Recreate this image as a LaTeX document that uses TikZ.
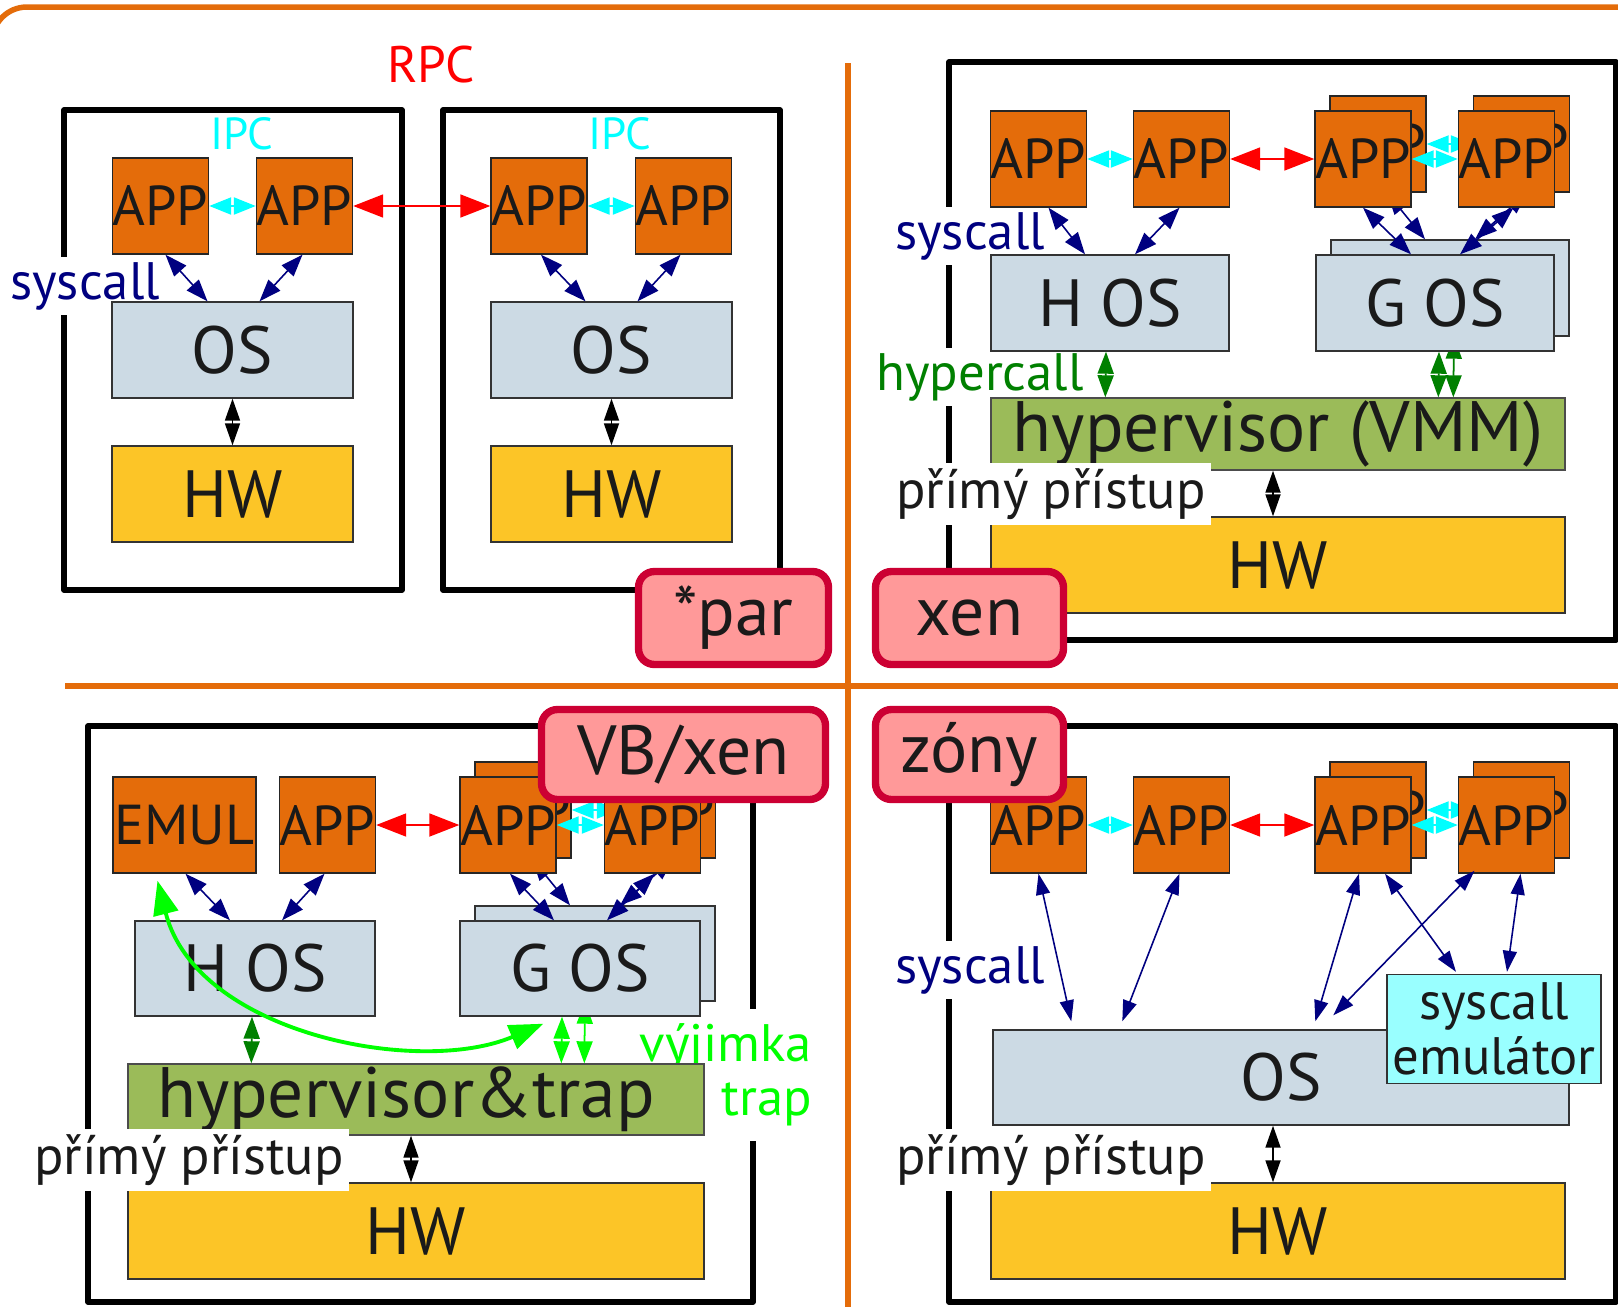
\documentclass[tikz,border=0pt]{standalone}
\usepackage{fontspec}
\setmainfont{PT Sans}
\usetikzlibrary{arrows.meta,calc}
\definecolor{appfill}{HTML}{E46C0A}
\definecolor{osfill}{HTML}{CCDAE4}
\definecolor{hwfill}{HTML}{FCC527}
\definecolor{vmmfill}{HTML}{9BBB59}
\definecolor{tagfill}{HTML}{FF9999}
\definecolor{tagborder}{HTML}{CC0033}
\definecolor{emufill}{HTML}{99FFFF}
\definecolor{sepcolor}{HTML}{E46C0A}
\definecolor{callblue}{HTML}{000080}
\definecolor{ipccyan}{HTML}{00FFFF}
\definecolor{hypgreen}{HTML}{008000}
\definecolor{traplime}{HTML}{00FF00}
\definecolor{boxtext}{HTML}{1A1A1A}
\newcommand{\appfont}{\fontsize{16}{18}\selectfont}
\newcommand{\osfont}{\fontsize{19}{21}\selectfont}
\newcommand{\vmmfont}{\fontsize{20.3}{22}\selectfont}
\newcommand{\notefont}{\fontsize{15}{15.5}\selectfont}
\newcommand{\tagfont}{\fontsize{19.8}{22}\selectfont}
\tikzset{
  sepline/.style={draw=sepcolor,line width=.55mm},
  quadframe/.style={draw=black,line width=.55mm,line join=round},
  app/.style={draw=black!85,line width=.4pt,fill=appfill,minimum width=9.6mm,minimum height=9.6mm,inner sep=0pt,font=\appfont,text=boxtext},
  osbox/.style={draw=black!80,line width=.4pt,fill=osfill,minimum height=9.6mm,inner sep=0pt,font=\osfont,text=boxtext},
  hwbox/.style={draw=black!80,line width=.4pt,fill=hwfill,minimum height=9.6mm,inner sep=0pt,font=\osfont,text=boxtext},
  vmmbox/.style={draw=black!70,line width=.4pt,fill=vmmfill,minimum height=7.2mm,inner sep=0pt,font=\vmmfont,text=boxtext},
  emubox/.style={draw=black!80,line width=.4pt,fill=emufill,minimum width=21.4mm,minimum height=10.9mm,inner sep=0pt,align=center,font=\notefont,text=boxtext},
  tagbox/.style={draw=tagborder,line width=2.1pt,fill=tagfill,rounded corners=1.6mm,inner sep=0pt,font=\tagfont,text=boxtext},
  callnote/.style={fill=white,inner sep=1.5pt,font=\notefont,text=callblue},
  accessnote/.style={fill=white,inner sep=1.5pt,font=\fontsize{15.5}{16}\selectfont,text=boxtext},
  sysarrow/.style={draw=callblue,line width=.45pt,{Triangle[length=2.2mm,width=1.6mm]}-{Triangle[length=2.2mm,width=1.6mm]}},
  longsys/.style={draw=callblue,line width=.45pt,{Triangle[length=2.1mm,width=1.4mm]}-{Triangle[length=2.1mm,width=1.4mm]}},
  ipcarrow/.style={draw=ipccyan,line width=.6pt,{Triangle[length=2.2mm,width=1.7mm]}-{Triangle[length=2.2mm,width=1.7mm]}},
  rpcarrow/.style={draw=red,line width=.5pt,{Triangle[length=3mm,width=2.3mm]}-{Triangle[length=3mm,width=2.3mm]}},
  hwarrow/.style={draw=black,line width=.5pt,{Triangle[length=2.2mm,width=1.5mm]}-{Triangle[length=2.2mm,width=1.5mm]}},
  hcarrow/.style={draw=hypgreen,line width=.5pt,{Triangle[length=2.2mm,width=1.6mm]}-{Triangle[length=2.2mm,width=1.6mm]}},
  traparrow/.style={draw=traplime,line width=.5pt,{Triangle[length=2.2mm,width=1.6mm]}-{Triangle[length=2.2mm,width=1.6mm]}},
  trapcurve/.style={draw=traplime,line width=1.1pt,{Triangle[length=3.4mm,width=2.5mm]}-{Triangle[length=3.4mm,width=2.5mm]}}
}
\begin{document}
\begin{tikzpicture}[x=0.1mm,y=-0.1mm]
  \fill[white] (0,0) rectangle (1618,1306);
  \useasboundingbox (0,0) rectangle (1618,1306);

  % quadrant separators
  \draw[sepline,rounded corners=3.5mm] (-8,80) |- (1625,7);
  \draw[sepline] (848,63) -- (848,1312);
  \draw[sepline] (65,686) -- (1625,686);

  % machine frames
  \draw[quadframe] (64,110) rectangle (402,590);
  \draw[quadframe] (443,110) rectangle (780,590);
  \draw[quadframe] (949,62) rectangle (1616,640);
  \draw[quadframe] (88,726) rectangle (753,1302);
  \draw[quadframe] (949,726) rectangle (1616,1302);

  % labels cutting the frames
  \node[callnote] (parsys) at (85,286) {syscall};
  \node[callnote] (xensys) at (970,236) {syscall};
  \node[callnote,text=hypgreen] (xenhcall) at (980,377) {hypercall};
  \node[callnote] (zonysys) at (970,970) {syscall};
  \node[callnote,text=traplime,align=right,anchor=east,inner ysep=4pt] (vbtrap) at (818,1075) {výjimka\\trap};

  % *par: two machines
  \node[app] (parapp1) at (160.5,206) {APP};
  \node[app] (parapp2) at (304.5,206) {APP};
  \node[app] (parapp3) at (539,206) {APP};
  \node[app] (parapp4) at (683.5,206) {APP};
  \node[osbox,minimum width=24.1mm] (paros1) at (232.5,350) {OS};
  \node[osbox,minimum width=24.1mm] (paros2) at (611.5,350) {OS};
  \node[hwbox,minimum width=24.1mm] (parhw1) at (232.5,494) {HW};
  \node[hwbox,minimum width=24.1mm] (parhw2) at (611.5,494) {HW};
  \node[text=red,font=\fontsize{14.6}{16}\selectfont] (rpc) at (431,65) {RPC};
  \node[text=ipccyan,font=\fontsize{12.8}{14}\selectfont] (paripc1) at (242,134) {IPC};
  \node[text=ipccyan,font=\fontsize{12.8}{14}\selectfont] (paripc2) at (620,134) {IPC};

  \draw[ipcarrow] (parapp1) -- (parapp2);
  \draw[rpcarrow] (parapp2) -- (parapp3);
  \draw[ipcarrow] (parapp3) -- (parapp4);
  \draw[sysarrow] ($(parapp1.south)+(5,0)$) -- ($(paros1.north)+(-25,0)$);
  \draw[sysarrow] ($(parapp2.south)+(-2,0)$) -- ($(paros1.north)+(27,0)$);
  \draw[sysarrow] ($(parapp3.south)+(2,0)$) -- ($(paros2.north)+(-26,0)$);
  \draw[sysarrow] ($(parapp4.south)+(-3,0)$) -- ($(paros2.north)+(26,0)$);
  \draw[hwarrow] (paros1) -- (parhw1);
  \draw[hwarrow] (paros2) -- (parhw2);

  % xen: paravirtualised guests
  \node[vmmbox,minimum width=57.4mm] (xenvmm) at (1278,434) {hypervisor (VMM)};
  \node[hwbox,minimum width=57.4mm] (xenhw) at (1278,565) {HW};
  \node[app] (xenapp3b) at (1378,144) {APP};
  \node[app] (xenapp4b) at (1521.5,144) {APP};
  \node[osbox,minimum width=23.8mm] (xengosb) at (1450,288) {G OS};
  \draw[ipcarrow] (xenapp3b) -- (xenapp4b);
  \draw[sysarrow] ($(xenapp3b.south)+(9,0)$) -- ($(xengosb.north)+(-25,0)$);
  \draw[sysarrow] ($(xenapp4b.south)+(6,0)$) -- ($(xengosb.north)+(25,0)$);
  \draw[hcarrow] ($(xengosb.south)+(4,0)$) -- ($(xenvmm.north west)+(463,0)$);

  \node[app] (xenapp1) at (1038.5,159) {APP};
  \node[app] (xenapp2) at (1181.5,159) {APP};
  \node[app] (xenapp3) at (1363,159) {APP};
  \node[app] (xenapp4) at (1506.5,159) {APP};
  \node[osbox,minimum width=23.8mm] (xenhos) at (1110,303) {H OS};
  \node[osbox,minimum width=23.8mm] (xengos) at (1435,303) {G OS};

  \draw[ipcarrow] (xenapp1) -- (xenapp2);
  \draw[rpcarrow] (xenapp2) -- (xenapp3);
  \draw[ipcarrow] (xenapp3) -- (xenapp4);
  \draw[sysarrow] ($(xenapp1.south)+(10,0)$) -- ($(xenhos.north)+(-25,0)$);
  \draw[sysarrow] ($(xenapp2.south)+(-2,0)$) -- ($(xenhos.north)+(25,0)$);
  \draw[sysarrow] (xenapp3.south) -- ($(xengos.north)+(-24,0)$);
  \draw[sysarrow] ($(xenapp4.south)+(7,0)$) -- ($(xengos.north)+(25,0)$);
  \draw[hcarrow] ($(xenhos.south)+(-4,0)$) -- ($(xenvmm.north west)+(115,0)$);
  \draw[hcarrow] ($(xengos.south)+(4,0)$) -- ($(xenvmm.north west)+(448,0)$);
  \draw[hwarrow] ($(xenvmm.south)+(-5,0)$) -- ($(xenhw.north)+(-5,0)$);
  \node[accessnote] (xenaccess) at (1051,494) {přímý přístup};

  % VB/xen: full virtualisation with trapping
  \node[vmmbox,minimum width=57.6mm,minimum height=7.1mm] (vbvmm) at (416,1099.5) {hypervisor\&trap\hspace*{2mm}};
  \node[hwbox,minimum width=57.6mm] (vbhw) at (416,1231) {HW};
  \node[app] (vbapp3b) at (523,810) {APP};
  \node[app] (vbapp4b) at (667.5,810) {APP};
  \node[osbox,minimum width=24mm,minimum height=9.5mm] (vbgosb) at (595,953.5) {G OS};
  \draw[ipcarrow] (vbapp3b) -- (vbapp4b);
  \draw[sysarrow] ($(vbapp3b.south)+(9,0)$) -- ($(vbgosb.north)+(-25,0)$);
  \draw[sysarrow] ($(vbapp4b.south)+(6,0)$) -- ($(vbgosb.north)+(25,0)$);
  \draw[traparrow] ($(vbgosb.south)+(-10,0)$) -- ($(vbvmm.north west)+(457,0)$);

  \node[app,minimum width=14.3mm] (vbemul) at (184.5,825) {EMUL};
  \node[app] (vbapp2) at (327.5,825) {APP};
  \node[app] (vbapp3) at (508,825) {APP};
  \node[app] (vbapp4) at (652.5,825) {APP};
  \node[osbox,minimum width=24mm,minimum height=9.5mm] (vbhos) at (255,968.5) {H OS};
  \node[osbox,minimum width=24mm,minimum height=9.5mm] (vbgos) at (580,968.5) {G OS};

  \draw[rpcarrow] (vbapp2) -- (vbapp3);
  \draw[ipcarrow] (vbapp3) -- (vbapp4);
  \draw[sysarrow] ($(vbemul.south)+(1,0)$) -- ($(vbhos.north)+(-25,0)$);
  \draw[sysarrow] ($(vbapp2.south)+(-3,0)$) -- ($(vbhos.north)+(27,0)$);
  \draw[sysarrow] ($(vbapp3.south)+(2,0)$) -- ($(vbgos.north)+(-26,0)$);
  \draw[sysarrow] ($(vbapp4.south)+(2,0)$) -- ($(vbgos.north)+(27,0)$);
  \draw[hcarrow] ($(vbhos.south)+(-3,0)$) -- ($(vbvmm.north west)+(124,0)$);
  \draw[traparrow] ($(vbgos.south)+(-18,0)$) -- ($(vbvmm.north west)+(434,0)$);
  \draw[hwarrow] ($(vbvmm.south)+(-5,0)$) -- ($(vbhw.north)+(-5,0)$);
  \draw[trapcurve] ($(vbemul.south)+(-27,7)$) .. controls ($(vbemul.south)+(12,160)$) and ($(vbgos.south west)+(-40,60)$) .. ($(vbgos.south west)+(84,7)$);
  \node[accessnote] (vbaccess) at (189,1160) {přímý přístup};

  % zones: one kernel, emulated syscalls
  \node[osbox,minimum width=57.6mm,minimum height=9.5mm] (zonyos) at (1281,1077.5) {OS};
  \node[emubox] (zonyemu) at (1494,1029) {syscall\\emulátor};
  \node[hwbox,minimum width=57.4mm] (zonyhw) at (1278,1231) {HW};
  \node[app] (zonyapp3b) at (1378,810) {APP};
  \node[app] (zonyapp4b) at (1521.5,810) {APP};
  \draw[ipcarrow] (zonyapp3b) -- (zonyapp4b);

  \node[app] (zonyapp1) at (1038.5,825) {APP};
  \node[app] (zonyapp2) at (1181.5,825) {APP};
  \node[app] (zonyapp3) at (1363,825) {APP};
  \node[app] (zonyapp4) at (1506.5,825) {APP};

  \draw[ipcarrow] (zonyapp1) -- (zonyapp2);
  \draw[rpcarrow] (zonyapp2) -- (zonyapp3);
  \draw[ipcarrow] (zonyapp3) -- (zonyapp4);
  \draw[longsys] (zonyapp1.south) -- ($(zonyos.north west)+(79,-8)$);
  \draw[longsys] ($(zonyapp2.south)+(-2,0)$) -- ($(zonyos.north west)+(130,-8)$);
  \draw[longsys] ($(zonyapp3.south)+(-4,0)$) -- ($(zonyos.north west)+(323,-8)$);
  \draw[longsys] ($(zonyapp3.south)+(22,0)$) -- ($(zonyemu.north)+(-38,-2)$);
  \draw[longsys] ($(zonyapp4.south)+(-32,-3)$) -- ($(zonyos.north west)+(341,-14)$);
  \draw[longsys] ($(zonyapp4.south)+(14,0)$) -- ($(zonyemu.north)+(13,-2)$);
  \draw[hwarrow] ($(zonyos.south)+(-8,0)$) -- ($(zonyhw.north)+(-5,0)$);
  \node[accessnote] (zonyaccess) at (1051,1160) {přímý přístup};

  % technique tags
  \node[tagbox,minimum width=19mm,minimum height=9.3mm] (partag) at (733.5,618) {*par};
  \node[tagbox,minimum width=18.8mm,minimum height=9.3mm] (xentag) at (969.5,618) {xen};
  \node[tagbox,minimum width=28.4mm,minimum height=9mm] (vbtag) at (683.5,754.5) {VB/xen};
  \node[tagbox,minimum width=18.8mm,minimum height=9mm] (zonytag) at (969.5,754.5) {zóny};
\end{tikzpicture}
\end{document}
